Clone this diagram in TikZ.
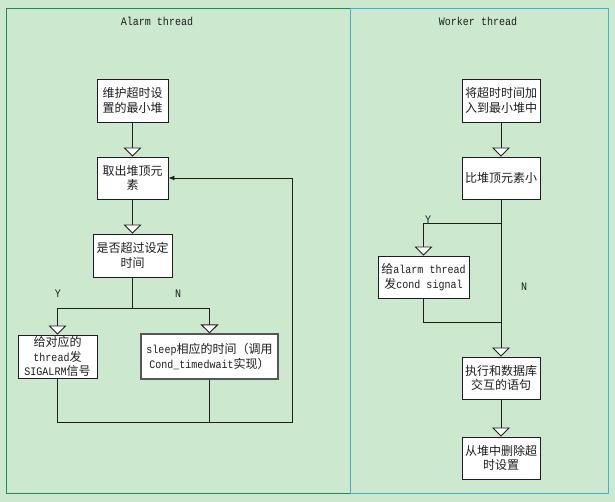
\documentclass[tikz,border=0pt]{standalone}
\usepackage{fontspec}
\setmainfont{Liberation Mono}[FakeStretch=0.87]
\newfontfamily\cjk{Noto Sans CJK SC}
\usetikzlibrary{arrows.meta}
\definecolor{bg}{RGB}{204,232,206}
\definecolor{leftc}{RGB}{30,140,80}
\definecolor{rightc}{RGB}{60,180,200}
\definecolor{ink}{RGB}{30,30,30}
\newcommand{\zh}[1]{{\cjk\fontsize{12}{14.5}\selectfont #1}}
\tikzset{
  box/.style={draw=ink, line width=0.9pt, fill=white, align=center, inner sep=1pt,
    font=\fontsize{11.5}{14.5}\selectfont, text=ink},
  conn/.style={draw=ink, line width=0.9pt},
  tri/.style={conn, -{Triangle[width=18pt,length=9pt,fill=white]}},
  loopar/.style={conn, -{Latex[length=6pt,width=5pt]}},
  lbl/.style={font=\fontsize{11.5}{12}\selectfont, text=ink, inner sep=0pt},
  title/.style={font=\fontsize{11.5}{12}\selectfont, text=ink, inner sep=0pt},
}
\begin{document}
\begin{tikzpicture}[x=1pt,y=-1pt]
\path[fill=bg,use as bounding box] (0,0) rectangle (615,502);
\draw[leftc, line width=1pt] (6,9) rectangle (350,493);
\draw[rightc, line width=1pt] (350,9) rectangle (608,493);
\node[title] (t1) at (157,21) {Alarm thread};
\node[title] (t2) at (478,21) {Worker thread};

% Alarm thread
\node[box, minimum width=71pt, minimum height=43pt] (b1) at (132.5,100.5) {\zh{维护超时设}\\\zh{置的最小堆}};
\node[box, minimum width=71pt, minimum height=42pt] (b2) at (132.5,178) {\zh{取出堆顶元}\\\zh{素}};
\node[box, minimum width=79pt, minimum height=43pt] (b3) at (132.5,255.5) {\zh{是否超过设定}\\\zh{时间}};
\node[box, minimum width=79pt, minimum height=43pt] (b4) at (57.5,356.5) {\zh{给对应的}\\thread\zh{发}\\SIGALRM\zh{信号}};
\node[box, draw=ink!75, line width=1.1pt, minimum width=137pt, minimum height=45pt] (b5) at (209.5,356.5) {sleep\zh{相应的时间（调用}\\Cond\_timedwait\zh{实现）}};

\coordinate (jy) at (57.5,308);
\coordinate (jn) at (209.5,308);
\coordinate (lb) at (292,422);

\draw[tri] (b1) -- (b2);
\draw[tri] (b2) -- (b3);
\draw[tri] (b3.south) |- (jy) -- (b4.north);
\draw[tri] (b3.south) |- (jn) -- (b5.north);
\draw[loopar] (b4.south) |- (lb) |- (b2.east);
\draw[conn] (b5.south) -- (b5.south |- lb);

\node[lbl] (ly) at (58,294) {Y};
\node[lbl] (ln) at (178,294) {N};

% Worker thread
\node[box, minimum width=78pt, minimum height=43pt] (w1) at (501,100.5) {\zh{将超时时间加}\\\zh{入到最小堆中}};
\node[box, minimum width=78pt, minimum height=42pt] (w2) at (501,178) {\zh{比堆顶元素小}};
\node[box, minimum width=91pt, minimum height=42pt] (w3) at (423.5,277) {\zh{给}alarm thread\\\zh{发}cond signal};
\node[box, minimum width=78pt, minimum height=42pt] (w4) at (501,378) {\zh{执行和数据库}\\\zh{交互的语句}};
\node[box, minimum width=78pt, minimum height=42pt] (w5) at (501,458) {\zh{从堆中删除超}\\\zh{时设置}};

\coordinate (wy) at (423.5,223);
\coordinate (wm) at (501,322);

\draw[tri] (w1) -- (w2);
\draw[tri] (w2) -- (w4);
\draw[tri] (w2.south) |- (wy) -- (w3.north);
\draw[conn] (w3.south) |- (wm);
\draw[tri] (w4) -- (w5);

\node[lbl] (wly) at (428,220) {Y};
\node[lbl] (wln) at (524,287) {N};
\end{tikzpicture}
\end{document}
